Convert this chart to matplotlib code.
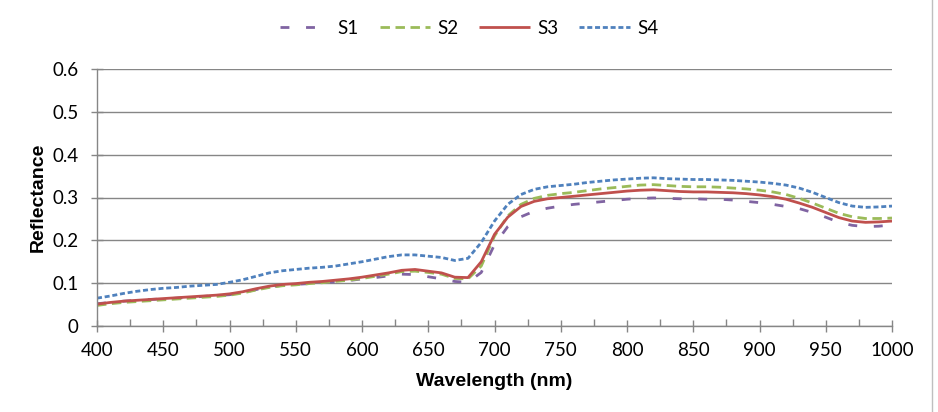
import matplotlib
matplotlib.use("Agg")
import matplotlib.pyplot as plt
from matplotlib.lines import Line2D
from matplotlib.ticker import MultipleLocator

wavelength = list(range(400, 1001, 10))

s1 = [0.052, 0.055, 0.058, 0.060, 0.062, 0.063, 0.065, 0.067, 0.069, 0.071,
      0.073, 0.078, 0.085, 0.091, 0.095, 0.097, 0.099, 0.101, 0.103, 0.106,
      0.110, 0.113, 0.117, 0.121, 0.120, 0.115, 0.110, 0.104, 0.102, 0.125,
      0.190, 0.232, 0.255, 0.268, 0.275, 0.280, 0.284, 0.287, 0.290, 0.293,
      0.296, 0.298, 0.299, 0.298, 0.297, 0.297, 0.296, 0.296, 0.294, 0.291,
      0.288, 0.284, 0.279, 0.274, 0.265, 0.254, 0.242, 0.235, 0.232, 0.233,
      0.236]
s2 = [0.048, 0.052, 0.055, 0.057, 0.059, 0.061, 0.063, 0.065, 0.067, 0.069,
      0.072, 0.077, 0.084, 0.090, 0.094, 0.096, 0.099, 0.101, 0.104, 0.107,
      0.111, 0.116, 0.121, 0.127, 0.128, 0.125, 0.121, 0.111, 0.110, 0.140,
      0.210, 0.257, 0.284, 0.298, 0.305, 0.309, 0.312, 0.316, 0.320, 0.323,
      0.326, 0.329, 0.330, 0.328, 0.326, 0.325, 0.325, 0.324, 0.322, 0.320,
      0.317, 0.313, 0.307, 0.298, 0.287, 0.275, 0.263, 0.255, 0.251, 0.251,
      0.252]
s3 = [0.051, 0.055, 0.058, 0.060, 0.062, 0.064, 0.066, 0.068, 0.070, 0.072,
      0.075, 0.080, 0.087, 0.093, 0.097, 0.099, 0.102, 0.104, 0.107, 0.110,
      0.114, 0.119, 0.124, 0.130, 0.132, 0.128, 0.124, 0.114, 0.113, 0.150,
      0.214, 0.254, 0.279, 0.291, 0.297, 0.300, 0.303, 0.306, 0.309, 0.312,
      0.315, 0.317, 0.318, 0.316, 0.314, 0.313, 0.313, 0.312, 0.311, 0.309,
      0.306, 0.302, 0.296, 0.287, 0.277, 0.265, 0.253, 0.245, 0.242, 0.243,
      0.245]
s4 = [0.065, 0.070, 0.076, 0.081, 0.085, 0.088, 0.090, 0.093, 0.095, 0.097,
      0.102, 0.108, 0.116, 0.124, 0.129, 0.132, 0.135, 0.137, 0.140, 0.145,
      0.150, 0.156, 0.162, 0.166, 0.166, 0.163, 0.160, 0.153, 0.158, 0.195,
      0.245, 0.284, 0.307, 0.319, 0.325, 0.328, 0.331, 0.335, 0.338, 0.341,
      0.343, 0.345, 0.346, 0.344, 0.343, 0.342, 0.342, 0.341, 0.340, 0.338,
      0.336, 0.333, 0.329, 0.322, 0.312, 0.300, 0.288, 0.280, 0.277, 0.278,
      0.280]

series_names = ["S1", "S2", "S3", "S4"]
x_ticks = list(range(400, 1001, 50))
y_ticks = [0, 0.1, 0.2, 0.3, 0.4, 0.5, 0.6]
y_ticklabels = ["0", "0.1", "0.2", "0.3", "0.4", "0.5", "0.6"]

tick_font = ["Lato", "DejaVu Sans"]
label_font = ["Liberation Sans", "DejaVu Sans"]

fig = plt.figure(figsize=(9.38, 4.12), dpi=100)
ax = fig.add_axes([97/938, 1-326/412, (892-97)/938, (326-69)/412])

styles = [
    dict(color="#8064A2", lw=2.0, dashes=(3.2, 6.0)),
    dict(color="#9BBB59", lw=2.0, dashes=(3.4, 2.0)),
    dict(color="#C0504D", lw=2.0),
    dict(color="#4F81BD", lw=2.0, dashes=(1.8, 1.0)),
]
for name, ys, st in zip(series_names, [s1, s2, s3, s4], styles):
    ax.plot(wavelength, ys, label=name, solid_capstyle="butt", dash_capstyle="butt", **st)

ax.set_xlim(400, 1000)
ax.set_ylim(0, 0.6)
ax.set_xticks(x_ticks)
ax.set_xticklabels([str(t) for t in x_ticks], family=tick_font, fontsize=13.5)
ax.xaxis.set_minor_locator(MultipleLocator(25))
ax.set_yticks(y_ticks)
ax.set_yticklabels(y_ticklabels, family=tick_font, fontsize=13.5)
ax.grid(axis="y", color="#868686", lw=1.0)
ax.set_axisbelow(True)
for sp in ["top", "right"]:
    ax.spines[sp].set_visible(False)
for sp in ["left", "bottom"]:
    ax.spines[sp].set_color("#868686")
    ax.spines[sp].set_linewidth(1.0)
ax.tick_params(axis="both", which="major", direction="inout", length=9, color="#868686", width=1.0, labelcolor="#000000")
ax.tick_params(axis="x", which="minor", direction="in", length=5, color="#868686", width=1.0)
ax.tick_params(axis="x", which="major", pad=7)
ax.tick_params(axis="y", which="major", pad=9)

ax.set_xlabel("Wavelength (nm)", family=label_font, fontweight="bold", fontsize=14, labelpad=10)
ax.set_ylabel("Reflectance", family=label_font, fontweight="bold", fontsize=14, labelpad=4)

leg = fig.legend(loc="center", bbox_to_anchor=(0.5, 1-28/412), ncol=4, frameon=False,
                 prop={"family": tick_font, "size": 13.5}, handlelength=2.7, columnspacing=1.1,
                 handletextpad=0.4)

fig.add_artist(Line2D([932/938, 932/938], [0, 1], color="#bfbfbf", lw=1.0, transform=fig.transFigure))

fig.savefig("out.png", dpi=100)
